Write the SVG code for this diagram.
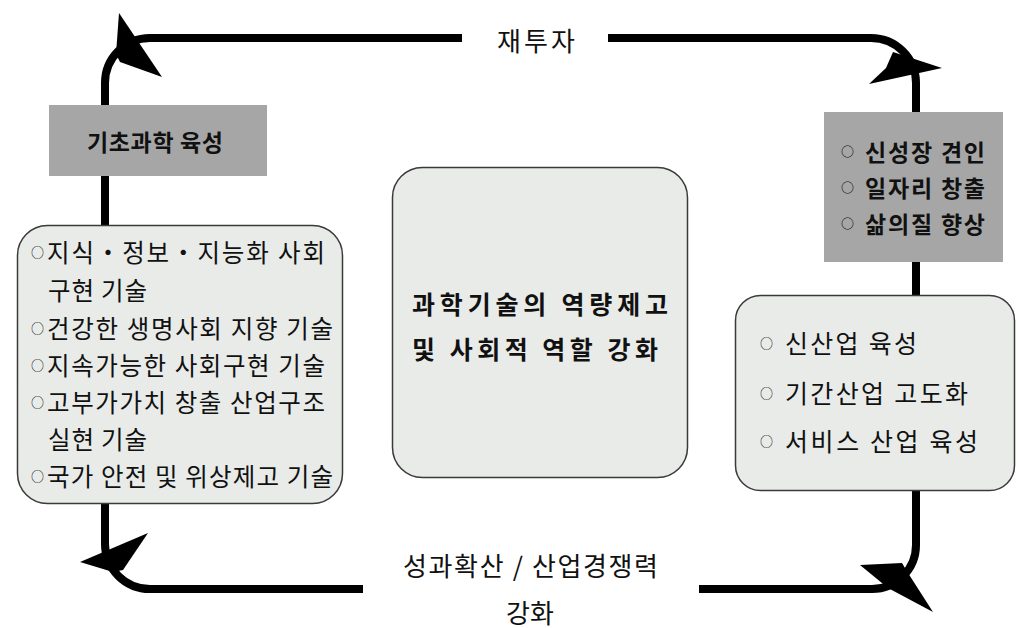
<svg xmlns="http://www.w3.org/2000/svg" width="1024" height="628" viewBox="0 0 1024 628">
<style>
text{font-family:"Noto Sans CJK KR","Noto Sans",sans-serif;fill:#111}
.loop{fill:none;stroke:#000;stroke-width:8}
.ah{fill:#000}
.gray{fill:#a6a6a6}
.rbox{fill:#e8ebe8;stroke:#3a3a3a;stroke-width:1.5}
.lbl{font-size:26px}
.lt{font-size:24.5px}
.rt{font-size:25px}
.gt{font-size:23px;font-weight:bold}
.ct{font-size:25px;font-weight:bold}
.b{font-size:13px}
.bb{font-size:13px;font-weight:bold}
</style>
<rect width="1024" height="628" fill="#fff"/>
<g id="connectors">
<path class="loop" d="M105,545 V83 A45,45 0 0 1 150,38 H462"/>
<path class="loop" d="M608,38 H871 A45,45 0 0 1 916,83 V545 A44,44 0 0 1 872,589 H699"/>
<path class="loop" d="M363,589 H150 A45,45 0 0 1 105,544"/>
<polygon class="ah" points="119,13 162,77 120,62 116,54"/>
<polygon class="ah" points="942,68 869,84 886,68 893,52"/>
<polygon class="ah" points="80,562 148,533 123,570 113,572"/>
<polygon class="ah" points="933,612 888,588 860,565 902,563 908,573"/>
<text class="lbl" x="497" y="51" textLength="78">재투자</text>
<text class="lbl" x="403" y="576" textLength="255">성과확산 / 산업경쟁력</text>
<text class="lbl" x="530" y="623" text-anchor="middle">강화</text>
</g>
<g id="node-basic-science">
<rect class="gray" x="49" y="105" width="218" height="71"/>
<text class="gt" x="87" y="151" textLength="136">기초과학 육성</text>
</g>
<g id="node-left-tech">
<rect class="rbox" x="17.5" y="225.5" width="325" height="278" rx="30"/>
<text class="lt"><tspan class="b" x="31" y="257">○</tspan><tspan x="47" y="262" textLength="278">지식・정보・지능화 사회</tspan></text>
<text class="lt" x="48" y="300" textLength="99">구현 기술</text>
<text class="lt"><tspan class="b" x="31" y="333">○</tspan><tspan x="47" y="338" textLength="286">건강한 생명사회 지향 기술</tspan></text>
<text class="lt"><tspan class="b" x="31" y="370">○</tspan><tspan x="47" y="375" textLength="278">지속가능한 사회구현 기술</tspan></text>
<text class="lt"><tspan class="b" x="31" y="407">○</tspan><tspan x="47" y="412" textLength="278">고부가가치 창출 산업구조</tspan></text>
<text class="lt" x="48" y="449" textLength="99">실현 기술</text>
<text class="lt"><tspan class="b" x="31" y="481">○</tspan><tspan x="47" y="486" textLength="286">국가 안전 및 위상제고 기술</tspan></text>
</g>
<g id="node-center">
<rect class="rbox" x="392.5" y="167.5" width="295" height="310" rx="30"/>
<text class="ct" x="412" y="314" textLength="256">과학기술의 역량제고</text>
<text class="ct" x="412" y="359" textLength="246">및 사회적 역할 강화</text>
</g>
<g id="node-growth">
<rect class="gray" x="824" y="112" width="179" height="150"/>
<text class="gt"><tspan class="bb" x="841" y="156">○</tspan><tspan x="865" y="161" textLength="120">신성장 견인</tspan></text>
<text class="gt"><tspan class="bb" x="841" y="192">○</tspan><tspan x="865" y="197" textLength="120">일자리 창출</tspan></text>
<text class="gt"><tspan class="bb" x="841" y="228">○</tspan><tspan x="865" y="233" textLength="120">삶의질 향상</tspan></text>
</g>
<g id="node-industry">
<rect class="rbox" x="735.5" y="295.5" width="279" height="195" rx="25"/>
<text class="rt"><tspan class="b" x="760" y="348">○</tspan><tspan x="785" y="353" textLength="132">신산업 육성</tspan></text>
<text class="rt"><tspan class="b" x="760" y="398">○</tspan><tspan x="785" y="403" textLength="183">기간산업 고도화</tspan></text>
<text class="rt"><tspan class="b" x="760" y="446">○</tspan><tspan x="785" y="451" textLength="193">서비스 산업 육성</tspan></text>
</g>
</svg>
